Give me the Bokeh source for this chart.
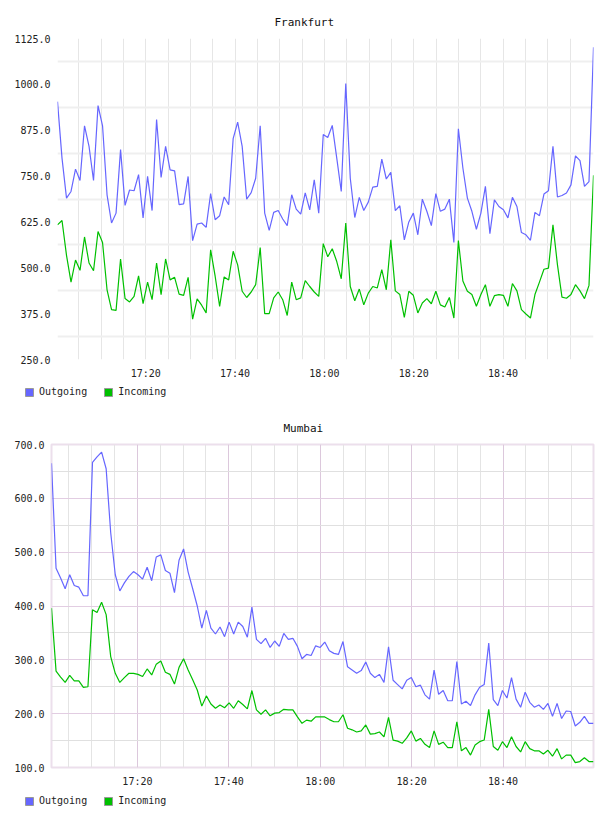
from bokeh.plotting import figure
from bokeh.models import Range1d, FixedTicker, PrintfTickFormatter, Legend, LegendItem, Title, ColumnDataSource
from bokeh.embed import file_html
from bokeh.resources import INLINE

FONT = "DejaVu Sans Mono"
BLUE = "#6666ff"
GREEN = "#00c000"

TICK_LABELS = ["17:20", "17:40", "18:00", "18:20", "18:40"]
SERIES_NAMES = ["Outgoing", "Incoming"]

# Frankfurt: one sample roughly every minute
FRANKFURT_START = "17:00:15"
FRANKFURT_STEP_S = 60.5
FRANKFURT_OUT = [
    953, 799, 690, 708, 769, 738, 887, 831, 738, 942,
    887, 699, 622, 649, 822, 670, 712, 710, 754, 636,
    749, 656, 904, 746, 831, 767, 764, 672, 674, 749,
    574, 619, 622, 610, 702, 631, 642, 693, 672, 852,
    897, 831, 687, 705, 744, 887, 649, 602, 651, 656,
    633, 615, 699, 660, 646, 704, 658, 740, 649, 863,
    855, 888, 799, 708, 1002, 744, 637, 692, 656, 679,
    720, 722, 796, 742, 760, 656, 669, 576, 625, 649,
    590, 687, 654, 615, 702, 654, 660, 687, 569, 879,
    772, 690, 654, 605, 649, 722, 593, 685, 667, 658,
    636, 692, 667, 596, 590, 575, 651, 642, 701, 710,
    831, 693, 697, 704, 726, 805, 792, 722, 735, 1101,
]
FRANKFURT_IN = [
    617, 629, 534, 461, 521, 493, 584, 513, 492, 599,
    569, 440, 386, 384, 524, 416, 407, 422, 478, 402,
    461, 413, 513, 427, 524, 467, 474, 428, 425, 474,
    360, 415, 398, 377, 549, 477, 395, 475, 467, 545,
    508, 436, 419, 434, 454, 555, 375, 375, 418, 434,
    413, 370, 461, 413, 418, 465, 449, 434, 422, 566,
    530, 552, 517, 470, 622, 449, 410, 442, 399, 431,
    449, 445, 495, 440, 576, 437, 427, 365, 436, 425,
    377, 404, 416, 402, 436, 399, 393, 419, 363, 574,
    464, 436, 427, 395, 427, 454, 395, 424, 427, 425,
    395, 457, 437, 386, 374, 363, 427, 461, 496, 499,
    617, 508, 420, 417, 427, 454, 437, 416, 452, 752,
]
FRANKFURT_Y_TICKS = [250, 375, 500, 625, 750, 875, 1000, 1125]

MUMBAI_START = "17:01:12"
MUMBAI_STEP_S = 59.8
MUMBAI_OUT = [
    665, 470, 452, 432, 458, 438, 435, 419, 419, 667,
    677, 686, 655, 536, 458, 428, 443, 455, 464, 458,
    450, 472, 447, 491, 495, 466, 461, 425, 485, 506,
    463, 432, 400, 359, 392, 359, 348, 361, 343, 370,
    348, 370, 362, 342, 398, 338, 330, 340, 323, 335,
    325, 349, 338, 340, 325, 302, 310, 308, 326, 323,
    333, 317, 312, 310, 334, 287, 281, 275, 280, 296,
    275, 267, 273, 258, 324, 262, 254, 246, 262, 267,
    250, 253, 235, 227, 281, 236, 243, 224, 224, 297,
    218, 223, 215, 235, 249, 254, 331, 226, 215, 243,
    229, 267, 227, 212, 240, 221, 212, 216, 208, 219,
    195, 219, 191, 205, 204, 177, 184, 195, 182, 182,
]
MUMBAI_IN = [
    396, 279, 268, 258, 271, 261, 261, 249, 250, 393,
    388, 407, 384, 306, 275, 258, 267, 275, 275, 273,
    269, 283, 272, 292, 298, 277, 273, 255, 286, 302,
    281, 263, 244, 214, 233, 218, 210, 216, 211, 220,
    210, 224, 217, 209, 243, 207, 199, 207, 196, 201,
    202, 208, 207, 207, 194, 182, 188, 186, 194, 194,
    194, 189, 185, 185, 198, 173, 170, 166, 168, 179,
    162, 163, 166, 157, 193, 151, 149, 145, 155, 168,
    149, 154, 143, 137, 168, 143, 147, 137, 137, 185,
    131, 137, 123, 142, 148, 151, 208, 139, 132, 148,
    137, 157, 139, 129, 148, 135, 131, 131, 125, 132,
    121, 135, 116, 123, 123, 109, 111, 118, 111, 111,
]
MUMBAI_Y_TICKS = [100, 200, 300, 400, 500, 600, 700]


def t2m(s):
    parts = [int(v) for v in s.split(":")]
    sec = parts[2] if len(parts) > 2 else 0
    return (parts[0] - 17) * 60 + parts[1] + sec / 60.0


def times(start, step_s, n):
    t0 = t2m(start)
    return [t0 + i * step_s / 60.0 for i in range(n)]


TICK_POS = [int(round(t2m(s))) for s in TICK_LABELS]
FIVE_MIN = list(range(5, 120, 5))


def make_fig(title, xs, out, inc, yticks, ygrid_ticks, ygrid_minor, height,
             left, top, bottom, title_offset, mumbai_style):
    p = figure(width=608, height=height,
               x_range=Range1d(xs[0], xs[-1]),
               y_range=Range1d(yticks[0], yticks[-1]),
               output_backend="svg", toolbar_location=None,
               min_border_left=left, min_border_right=15,
               min_border_top=top, min_border_bottom=bottom,
               background_fill_color="white", border_fill_color="white")
    p.title = Title(text=title, align="left", offset=title_offset,
                    text_font=FONT, text_font_size="11px",
                    text_font_style="normal", text_color="#111111", standoff=19)
    src = ColumnDataSource(dict(x=xs, out=out, inc=inc))
    p.line("x", "out", source=src, line_color=BLUE, line_width=1.2)
    p.line("x", "inc", source=src, line_color=GREEN, line_width=1.2)

    for ax in (p.xaxis[0], p.yaxis[0]):
        ax.axis_line_color = None
        ax.major_tick_line_color = None
        ax.minor_tick_line_color = None
        ax.major_tick_in = 0
        ax.major_tick_out = 0
        ax.minor_tick_in = 0
        ax.minor_tick_out = 0
        ax.major_label_text_font = FONT
        ax.major_label_text_font_size = "10px"
        ax.major_label_text_color = "#222222"
    p.xaxis.ticker = FixedTicker(ticks=TICK_POS, minor_ticks=FIVE_MIN)
    p.xaxis.major_label_overrides = {pos: lab for pos, lab in zip(TICK_POS, TICK_LABELS)}
    p.xaxis.major_label_standoff = 8
    p.yaxis.ticker = FixedTicker(ticks=yticks)
    p.yaxis.formatter = PrintfTickFormatter(format="%.1f")
    p.yaxis.major_label_standoff = 7

    if mumbai_style:
        p.xgrid.ticker = FixedTicker(ticks=TICK_POS, minor_ticks=FIVE_MIN)
        p.xgrid.grid_line_color = "#dcc8dc"
        p.xgrid.minor_grid_line_color = "#e4e4e4"
        p.ygrid.ticker = FixedTicker(ticks=ygrid_ticks, minor_ticks=ygrid_minor)
        p.ygrid.grid_line_color = "#e2cde2"
        p.ygrid.minor_grid_line_color = "#e0e0e0"
        p.outline_line_color = "#ecdfec"
        p.outline_line_width = 2
    else:
        p.xgrid.ticker = FixedTicker(ticks=FIVE_MIN)
        p.xgrid.grid_line_color = "#e6e6e6"
        p.ygrid.ticker = FixedTicker(ticks=ygrid_ticks)
        p.ygrid.grid_line_color = "#efefef"
        p.ygrid.grid_line_width = 2
        p.outline_line_color = None
    return p


def make_legend_fig(height, box_top):
    lf = figure(width=608, height=height, x_range=Range1d(0, 1), y_range=Range1d(0, 1),
                x_axis_type=None, y_axis_type=None,
                min_border_left=0, min_border_right=0, min_border_top=0, min_border_bottom=0,
                output_backend="svg", toolbar_location=None,
                background_fill_color="white", border_fill_color="white")
    lf.grid.visible = False
    lf.outline_line_color = None
    # legend proxies: a single swatch each, placed outside the visible range
    far = [lf.x_range.end + 1]
    far2 = [lf.x_range.end + 2]
    r1 = lf.quad(left=far, right=far2, top=far2, bottom=far, fill_color=BLUE, line_color="#999999")
    r2 = lf.quad(left=far, right=far2, top=far2, bottom=far, fill_color=GREEN, line_color="#999999")
    legend = Legend(items=[LegendItem(label=SERIES_NAMES[0], renderers=[r1]),
                           LegendItem(label=SERIES_NAMES[1], renderers=[r2])],
                    orientation="horizontal", location=(24, height - box_top - 10),
                    glyph_width=10, glyph_height=10, label_height=10,
                    label_standoff=5, spacing=16, padding=0, margin=0,
                    border_line_color=None, background_fill_alpha=0,
                    label_text_font=FONT, label_text_font_size="10px",
                    label_text_color="#222222")
    lf.add_layout(legend)
    return lf


fx = times(FRANKFURT_START, FRANKFURT_STEP_S, len(FRANKFURT_OUT))
mx = times(MUMBAI_START, MUMBAI_STEP_S, len(MUMBAI_OUT))

f_grid = [(a + b) / 2 for a, b in zip(FRANKFURT_Y_TICKS[:-1], FRANKFURT_Y_TICKS[1:])]
m_minor = [(a + b) / 2 for a, b in zip(MUMBAI_Y_TICKS[:-1], MUMBAI_Y_TICKS[1:])]

p1 = make_fig("Frankfurt", fx, FRANKFURT_OUT, FRANKFURT_IN, FRANKFURT_Y_TICKS,
              f_grid, [], 383, 57, 38, 24, 217, False)
l1 = make_legend_fig(27, 4)
p2 = make_fig("Mumbai", mx, MUMBAI_OUT, MUMBAI_IN, MUMBAI_Y_TICKS,
              MUMBAI_Y_TICKS, m_minor, 380, 51, 34, 23, 232, True)
l2 = make_legend_fig(26, 6)

p = [p1, l1, p2, l2]
open("out.html", "w").write(file_html(p, INLINE))
